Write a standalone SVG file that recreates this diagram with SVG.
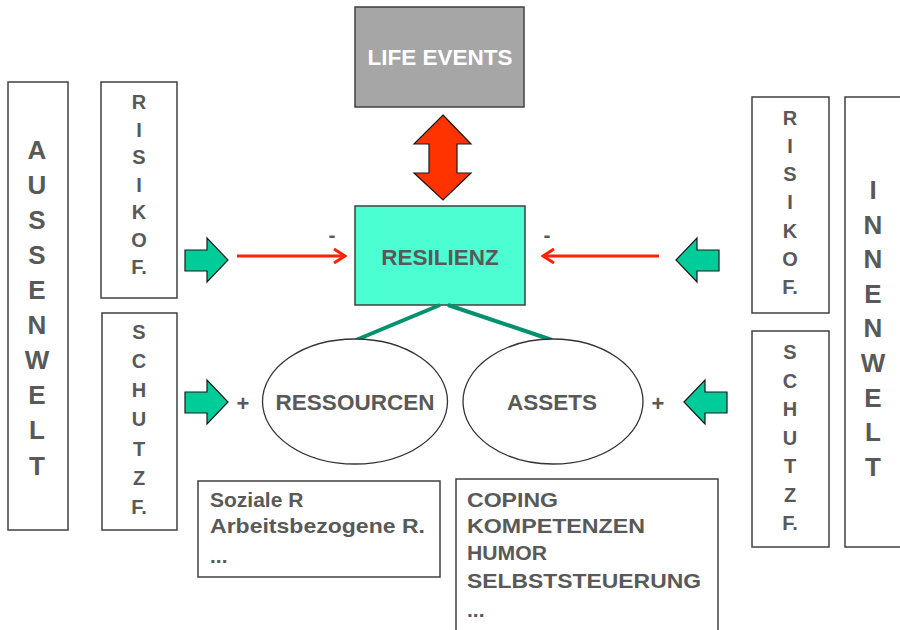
<svg xmlns="http://www.w3.org/2000/svg" width="900" height="630" viewBox="0 0 900 630">
<defs>
<style>
.box{fill:#fff;stroke:#404040;stroke-width:1.5}
.t{font-family:"Liberation Sans",Arial,sans-serif;font-weight:bold;fill:#595959}
.big{font-size:26px;text-anchor:middle}
.mid{font-size:20px;text-anchor:middle}
.lbl{font-size:22.5px;text-anchor:middle}
.lst{font-size:21px}
.blk{fill:#00cc99;stroke:#1a1a1a;stroke-width:1.2}
.red{stroke:#ff2200;stroke-width:3;fill:none}
.grn{stroke:#00916e;stroke-width:4;fill:none}
</style>
<marker id="chev" viewBox="0 0 14 16" refX="12" refY="8" markerWidth="14" markerHeight="16" markerUnits="userSpaceOnUse" orient="auto">
<path d="M1,1 L12,8 L1,15" fill="none" stroke="#ff2200" stroke-width="3"/>
</marker>
</defs>
<rect width="900" height="630" fill="#fff"/>

<g id="aussenwelt">
<rect class="box" x="8" y="82" width="60" height="448"/>
<text class="t big">
<tspan x="37" y="159">A</tspan><tspan x="37" y="194">U</tspan><tspan x="37" y="229">S</tspan><tspan x="37" y="264">S</tspan><tspan x="37" y="299">E</tspan><tspan x="37" y="334">N</tspan><tspan x="37" y="369">W</tspan><tspan x="37" y="404">E</tspan><tspan x="37" y="439">L</tspan><tspan x="37" y="475">T</tspan>
</text>
</g>

<g id="risiko-left">
<rect class="box" x="101" y="82" width="76" height="216"/>
<text class="t mid">
<tspan x="139" y="109">R</tspan><tspan x="139" y="136.5">I</tspan><tspan x="139" y="164">S</tspan><tspan x="139" y="191.5">I</tspan><tspan x="139" y="219">K</tspan><tspan x="139" y="246.5">O</tspan><tspan x="139" y="274">F.</tspan>
</text>
</g>

<g id="schutz-left">
<rect class="box" x="102" y="313" width="75" height="217"/>
<text class="t mid">
<tspan x="139" y="339">S</tspan><tspan x="139" y="368">C</tspan><tspan x="139" y="397">H</tspan><tspan x="139" y="426">U</tspan><tspan x="139" y="456">T</tspan><tspan x="139" y="485">Z</tspan><tspan x="139" y="514">F.</tspan>
</text>
</g>

<g id="risiko-right">
<rect class="box" x="752" y="97" width="77" height="216"/>
<text class="t mid">
<tspan x="790" y="125">R</tspan><tspan x="790" y="153">I</tspan><tspan x="790" y="181">S</tspan><tspan x="790" y="209">I</tspan><tspan x="790" y="238">K</tspan><tspan x="790" y="266">O</tspan><tspan x="790" y="294">F.</tspan>
</text>
</g>

<g id="schutz-right">
<rect class="box" x="752" y="331" width="77" height="216"/>
<text class="t mid">
<tspan x="790" y="359">S</tspan><tspan x="790" y="387.5">C</tspan><tspan x="790" y="416">H</tspan><tspan x="790" y="444.5">U</tspan><tspan x="790" y="473">T</tspan><tspan x="790" y="501.5">Z</tspan><tspan x="790" y="530">F.</tspan>
</text>
</g>

<g id="innenwelt">
<rect class="box" x="845" y="97" width="60" height="450"/>
<text class="t big">
<tspan x="873" y="199">I</tspan><tspan x="873" y="234">N</tspan><tspan x="873" y="268">N</tspan><tspan x="873" y="303">E</tspan><tspan x="873" y="337">N</tspan><tspan x="873" y="372">W</tspan><tspan x="873" y="407">E</tspan><tspan x="873" y="441">L</tspan><tspan x="873" y="476">T</tspan>
</text>
</g>

<g id="life-events">
<rect x="355" y="7" width="169" height="100" fill="#a6a6a6" stroke="#404040" stroke-width="1.5"/>
<text x="440" y="65" font-family="Liberation Sans,Arial,sans-serif" font-weight="bold" font-size="22.5" fill="#fff" text-anchor="middle">LIFE EVENTS</text>
</g>

<g id="resilienz">
<rect x="355" y="206" width="170" height="99" fill="#4bffd2" stroke="#404040" stroke-width="1.5"/>
<text class="t lbl" x="440" y="265">RESILIENZ</text>
</g>

<g id="connectors">
<polygon points="443,115 471,144 457,144 457,173 471,173 443,200 414,173 429,173 429,144 414,144" fill="#ff3300" stroke="#1a1a1a" stroke-width="1.2"/>
<line class="grn" x1="440" y1="305" x2="356" y2="340"/>
<line class="grn" x1="448" y1="305" x2="552" y2="340"/>
<line class="red" x1="237" y1="256" x2="345" y2="256" marker-end="url(#chev)"/>
<line class="red" x1="659" y1="256" x2="543" y2="256" marker-end="url(#chev)"/>
<polygon class="blk" points="185,250 207,250 207,238 228,260 207,282 207,271 185,271"/>
<polygon class="blk" points="185,392 207,392 207,380 228,402 207,424 207,413 185,413"/>
<polygon class="blk" points="676,260 697,238 697,250 719,250 719,271 697,271 697,282"/>
<polygon class="blk" points="684,402 705,380 705,392 727,392 727,413 705,413 705,424"/>
<text class="t" x="332" y="242" font-size="21" text-anchor="middle">-</text>
<text class="t" x="547" y="242" font-size="21" text-anchor="middle">-</text>
<text class="t" x="243" y="411" font-size="22" text-anchor="middle">+</text>
<text class="t" x="658" y="411" font-size="22" text-anchor="middle">+</text>
</g>

<g id="ressourcen">
<ellipse cx="355" cy="401.5" rx="92.5" ry="62.5" fill="#fff" stroke="#333" stroke-width="1.3"/>
<text class="t lbl" x="355" y="409.5">RESSOURCEN</text>
</g>

<g id="assets">
<ellipse cx="553" cy="401.5" rx="90" ry="62.5" fill="#fff" stroke="#333" stroke-width="1.3"/>
<text class="t lbl" x="552" y="409.5">ASSETS</text>
</g>

<g id="ressourcen-list">
<rect class="box" x="198" y="481" width="242" height="96"/>
<text class="t lst" x="210" y="507">Soziale R</text>
<text class="t lst" x="210" y="533" textLength="215" lengthAdjust="spacingAndGlyphs">Arbeitsbezogene R.</text>
<text class="t lst" x="210" y="563">...</text>
</g>

<g id="assets-list">
<rect class="box" x="456" y="479" width="262" height="170"/>
<text class="t lst" x="467" y="507" textLength="91" lengthAdjust="spacingAndGlyphs">COPING</text>
<text class="t lst" x="467" y="533" textLength="178" lengthAdjust="spacingAndGlyphs">KOMPETENZEN</text>
<text class="t lst" x="467" y="560" textLength="80" lengthAdjust="spacingAndGlyphs">HUMOR</text>
<text class="t lst" x="467" y="588" textLength="234" lengthAdjust="spacingAndGlyphs">SELBSTSTEUERUNG</text>
<text class="t lst" x="467" y="617">...</text>
</g>
</svg>
